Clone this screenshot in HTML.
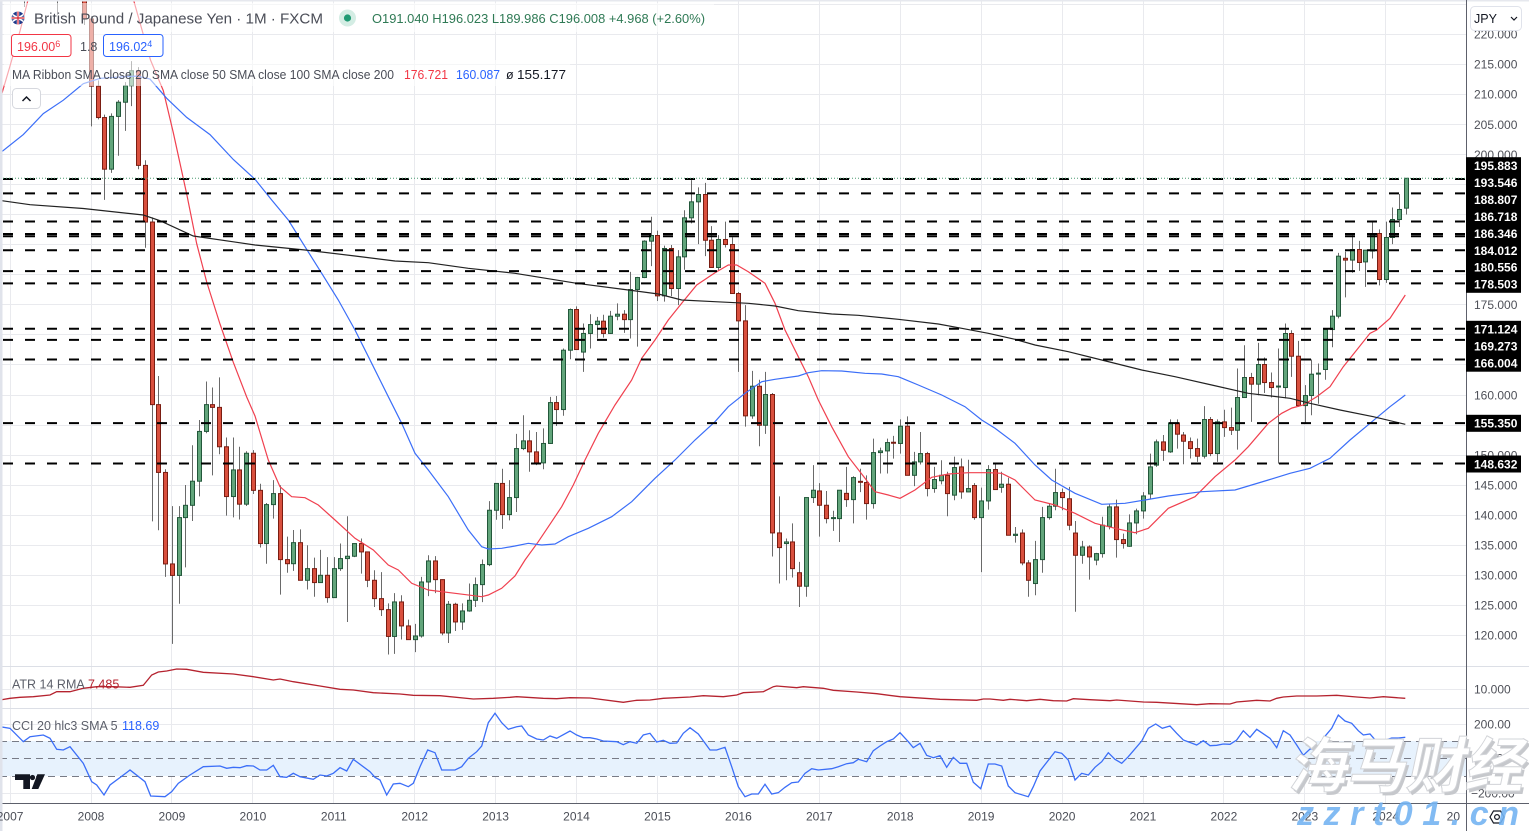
<!DOCTYPE html>
<html><head><meta charset="utf-8">
<style>
html,body{margin:0;padding:0;background:#fff;overflow:hidden;}
svg{display:block;font-family:"Liberation Sans",Arial,sans-serif;}
</style></head>
<body>
<svg id="c" width="1529" height="831" viewBox="0 0 1529 831" xmlns="http://www.w3.org/2000/svg">
<defs>
<clipPath id="mp"><rect x="0" y="0" width="1466" height="666"/></clipPath>
<clipPath id="bp"><rect x="0" y="667" width="1466" height="136"/></clipPath>
<clipPath id="xa"><rect x="0" y="804" width="1460" height="27"/></clipPath>
</defs>
<rect width="1529" height="831" fill="#fff"/>

<!-- grid -->
<g stroke="#e9eaee" stroke-width="1" fill="none">
<path d="M0 4.5H1466M0 34.5H1466M0 64.5H1466M0 94.5H1466M0 124.5H1466M0 154.5H1466M0 184.5H1466M0 214.5H1466M0 244.5H1466M0 274.5H1466M0 304.5H1466M0 334.5H1466M0 364.5H1466M0 395.5H1466M0 425.5H1466M0 455.5H1466M0 485.5H1466M0 515.5H1466M0 545.5H1466M0 575.5H1466M0 605.5H1466M0 635.5H1466"/>
<path d="M0 689.5H1466M0 724.5H1466M0 793.5H1466"/>
<path d="M10.5 0V803M91.5 0V803M171.5 0V803M252.5 0V803M333.5 0V803M414.5 0V803M495.5 0V803M576.5 0V803M657.5 0V803M738.5 0V803M819.5 0V803M900.5 0V803M981.5 0V803M1062.5 0V803M1143.5 0V803M1223.5 0V803M1304.5 0V803M1385.5 0V803"/>
</g>

<g clip-path="url(#mp)">
<g id="candles"></g>
<!-- MAs -->
<path fill="none" stroke="#f0404f" stroke-width="1.2" d="M0,100 L10,66 L20,31 L28,0 L29,-5 M133,-2 L150.5,60 L163.3,90.6 L173.3,132.7 L186.7,194 L196.7,243.7 L206.7,282 L220,324 L233.3,362.3 L246.7,397 L255,416 L268.3,460 L280,486.7 L291.7,496.7 L305,497.7 L318.3,505 L335,520 L355,538.3 L373.3,550 L388.3,565 L398.3,570 L411.7,583.3 L428.3,590 L455,593.3 L481.7,596.7 L488.3,595 L501.7,588.3 L515,576 L525,560 L538.3,541.7 L551.7,521.7 L561.7,506.7 L573.3,485 L585,460 L598.3,433.3 L615,405 L631.7,380 L641.7,358.3 L655,340 L668.3,320 L681.7,303.3 L696.7,285 L715,272.7 L728.3,265 L736.7,265 L748.3,271.7 L765,283.3 L775,303.3 L785,330 L798.3,356.7 L808.3,376.7 L818.3,400 L831.7,426.7 L848.3,456.7 L865,478.3 L875,491.7 L888.3,495 L900,498.3 L915,490 L931.7,477.3 L948.3,474 L968.3,472.7 L988.3,472.7 L1001.7,473.3 L1015,480 L1025,490 L1035,500 L1055,505 L1075,513.3 L1095,523.3 L1115,528.3 L1135,532.7 L1148.3,528.3 L1168.3,508.3 L1195,496.7 L1215,476.7 L1235,460 L1248.3,446.7 L1268.3,423.3 L1281.7,413.3 L1292,408 L1303.3,405 L1316.7,396.7 L1330,386.7 L1343.3,366.7 L1356.7,350 L1370,333.3 L1376.7,330 L1390,318.3 L1405.3,295"/>
<path fill="none" stroke="#3b6ef8" stroke-width="1.2" d="M0,152 L2.7,151 L23.3,134.6 L43.3,113.6 L63.3,100.2 L83.3,83.7 L100,78.4 L116.7,77.2 L136.7,76.1 L150,79.1 L166.7,98.3 L186.7,117.4 L210,134.6 L233.3,159.5 L255,179.3 L271.7,200 L288.3,220 L305,246.7 L321.7,273.3 L338.3,300 L355,330 L371.7,363.3 L388.3,396.7 L401.7,423.3 L415,453.3 L428.3,470 L448.3,496.7 L468.3,530 L481.7,546.7 L488.3,549 L501.7,548.3 L515,546 L528.3,543.3 L541.7,545 L555,544 L568.3,536.7 L588.3,528.3 L611.7,516.7 L631.7,501.7 L655,478.3 L675,460 L695,440 L715,421.7 L728.3,406.7 L745,393.3 L761.7,381.7 L775,379.3 L798.3,376 L808.3,372.7 L821.7,370.7 L841.7,371 L865,373.3 L881.7,374 L898.3,376.7 L918.3,385 L941.7,395 L965,406.7 L981.7,420 L995,428.3 L1015,443.3 L1035,465 L1051.7,480 L1075,493.3 L1101.7,504.3 L1125,503.3 L1145,500 L1168.3,496 L1201.7,491.7 L1235,490 L1268.3,480 L1290,473.3 L1310,468.3 L1330,458.3 L1350,440 L1370,423.3 L1390,406.7 L1405.3,395"/>
<path fill="none" stroke="#222" stroke-width="1.2" d="M0,200.5 L2.7,200.8 L30,204.7 L83.3,208.5 L143.3,215 L160,220.7 L193.3,236 L233.3,241.8 L255,245 L305,250 L355,256 L395,261 L428.3,262.7 L468.3,268.3 L515,273.3 L576.7,283.3 L628.3,290 L658.3,294 L681.7,300 L715,301.7 L748.3,303.3 L775,306 L798.3,310.7 L831.7,314 L858.3,315.3 L898.3,319.3 L938.3,324 L961.7,328.3 L988.3,333.3 L1015,339.3 L1035,345 L1068.3,351.7 L1101.7,360 L1141.7,370 L1175,376.7 L1211.7,385 L1248.3,393.3 L1290,398.3 L1310,403.3 L1340,410 L1373.3,416.7 L1405.3,424.3"/>

<!-- horizontal dashed levels -->
<g stroke="#000" stroke-width="2" stroke-dasharray="10 12" fill="none">
<path d="M3 179H1466M3 193.4H1466M3 221.5H1466M3 234H1466M3 236.3H1466M3 250.3H1466M3 271.1H1466M3 283.4H1466M3 328.8H1466M3 339.9H1466M3 359.5H1466M3 423.1H1466M3 463.5H1466"/>
</g>
<path d="M0 178.2H1466" stroke="#4a9a70" stroke-width="1" stroke-dasharray="1 2" fill="none"/>

<!-- legend overlay -->
<g fill="#fff" fill-opacity="0.55">
<rect x="4" y="3" width="710" height="29"/>
<rect x="4" y="32" width="166" height="28"/>
<rect x="4" y="60" width="566" height="26"/>
</g>
</g>

<!-- header legend -->
<g>
<circle cx="18" cy="18" r="6.5" fill="#1f3a8a"/>
<path d="M12.5 14.5L23.5 21.5M12.5 21.5L23.5 14.5" stroke="#fff" stroke-width="1.6"/>
<path d="M18 11.5V24.5M11.5 18H24.5" stroke="#fff" stroke-width="2.4"/>
<path d="M18 11.5V24.5M11.5 18H24.5" stroke="#d3202f" stroke-width="1.2"/>
<text x="34" y="23.5" font-size="15" fill="#4a4d57" textLength="289" lengthAdjust="spacingAndGlyphs">British Pound / Japanese Yen · 1M · FXCM</text>
<circle cx="347.5" cy="18" r="8.5" fill="#d4ede4"/>
<circle cx="347.5" cy="18" r="3.6" fill="#1f9a73"/>
<text x="372" y="23" font-size="13" fill="#2f7a55" textLength="333" lengthAdjust="spacingAndGlyphs">O191.040 H196.023 L189.986 C196.008 +4.968 (+2.60%)</text>

<rect x="11.5" y="34.5" width="59.5" height="22" rx="3" fill="#fff" stroke="#f23645"/>
<text x="17" y="51" font-size="12.5" fill="#f23645">196.00<tspan font-size="9" dy="-4">6</tspan></text>
<text x="80" y="51" font-size="12.5" fill="#4a4d57">1.8</text>
<rect x="103.5" y="34.5" width="59.5" height="22" rx="3" fill="#fff" stroke="#2962ff"/>
<text x="109" y="51" font-size="12.5" fill="#2962ff">196.02<tspan font-size="9" dy="-4">4</tspan></text>

<text x="12" y="79" font-size="12.5" fill="#4a4d57" textLength="382" lengthAdjust="spacingAndGlyphs">MA Ribbon SMA close 20 SMA close 50 SMA close 100 SMA close 200</text>
<text x="404" y="79" font-size="12.5" fill="#f23645" textLength="44" lengthAdjust="spacingAndGlyphs">176.721</text>
<text x="456" y="79" font-size="12.5" fill="#2962ff" textLength="44" lengthAdjust="spacingAndGlyphs">160.087</text>
<text x="506" y="79" font-size="12.5" fill="#131722">ø</text>
<text x="517" y="79" font-size="12.5" fill="#131722" textLength="49" lengthAdjust="spacingAndGlyphs">155.177</text>

<rect x="12.5" y="88.5" width="28" height="20" rx="4" fill="#fff" stroke="#d6d8de"/>
<path d="M22.5 101L26.5 97L30.5 101" stroke="#131722" stroke-width="1.5" fill="none"/>
</g>

<!-- bottom panes -->
<rect x="0" y="741" width="1466" height="35" fill="#e7f2fd"/>
<g stroke="#787b86" stroke-width="1" stroke-dasharray="7 5" fill="none">
<path d="M0 741.5H1466M0 758.5H1466M0 776.5H1466"/>
</g>
<g clip-path="url(#bp)" fill="none">
<polyline stroke="#b5232f" stroke-width="1.3" points="0,700 10,698.3 20,697.3 33.3,696.7 50,695 56.7,691.7 70,691.7 83.3,688.3 96.7,686.7 113.3,686.7 130,687.3 143.3,685.3 151.7,675 158.3,672 166.7,671 176.7,669 186.7,669.3 203.3,672.3 233.3,674 253.3,676.7 273.3,680 280,679 293.3,681.7 320,686 340,689.3 353.3,690 373.3,692.7 400,694 413.3,695.3 440,695.7 473.3,699 493.3,698.3 510,697.3 516.7,696.7 543.3,698.3 556.7,698.7 570,697.7 590,698 623.3,702.3 636.7,700.3 650,700 663.3,698.3 690,697 703.3,695.7 723.3,696.7 736.7,695 743.3,692.7 763.3,691.7 773.3,686.7 776.7,686 796.7,687.7 803.3,686.7 823.3,688.3 833.3,690.3 856.7,692 876.7,693.7 900,696.7 940,699.3 976.7,700.3 983.3,699 990,699 1003.3,700.3 1010,699.3 1026.7,700.7 1040,699.3 1053.3,700.7 1066.7,701 1073.3,698.7 1090,699.7 1110,700.7 1116.7,700 1143.3,702 1156.7,702.3 1196.7,704.7 1210,703.7 1230,704 1236.7,702 1256.7,700.3 1270,701 1276.7,698.3 1283.3,697 1296.7,696 1316.7,696 1336.7,695.3 1356.7,697 1370,698 1383.3,696.7 1396.7,697.7 1405.3,698.3"/>
<polyline stroke="#3b6ef8" stroke-width="1.3" points="0,726.7 10,728.3 23.3,741.7 30,736.7 43.3,735 50,738.3 56.7,749.3 63.3,750 70,746.7 83.3,763.3 91.7,781.7 96.7,785 104,795 110,785 130,770 145,781.7 150.7,796 165,796.7 171.7,791.7 178.3,783.3 190,775 203.3,766.7 220,766 226.7,768.3 233.3,767.3 240,767.7 246.7,765.7 253.3,766 260,770 266.7,770 273.3,765.3 280,776.7 286.7,777.3 293.3,773.3 300,776.7 313.3,779.3 320,775 326.7,776 333.3,773.3 340,767.7 346.7,771 353.3,759.3 370,771.7 375,777.3 380,780 386.7,795 393.3,784 400,783.3 408.3,786.7 413.3,783.3 420,766.7 427.7,750 435,752.7 441.7,770 455,770 461.7,766.7 468.3,758.3 476.7,751.7 481.7,746 488.3,722.7 495,713.3 501.7,722.7 508.3,729.3 516.7,726.7 521.7,726 528.3,735 536.7,739 543.3,740 550,736 556.7,738.3 570,731 576.7,735 583.3,737.7 590,737.7 596.7,739 603.3,741 616.7,741.7 623.3,744.7 630,741.7 636.7,743.3 643.3,735 650,733.3 656.7,742 663.3,740.3 670,743.3 676.7,743 683.3,733.3 690,727.7 698.3,734 710,750 716.7,750 725,747.3 731.7,766.7 738.3,786.7 745,796.7 751.7,794 758.3,794 765,784.3 771.7,794 778.3,792.7 785,787.3 791.7,782.7 798.3,782 805,773.3 811.7,768.7 818.3,770 831.7,768.7 838.3,766.7 846.7,763.7 853.3,762.7 858.3,759.3 866.7,761.7 873.3,750.7 880,746 886.7,741.7 893.3,739 900,732.7 908.3,741.7 913.3,747.7 920,743.3 926.7,755.3 933.3,757.7 940,755.7 946.7,767.3 953.3,757.3 960,763.3 966.7,763.3 973.3,782.3 980.7,788.7 988.3,764 995,764 1001.7,766 1008.3,786 1015,792.7 1028.3,796.7 1033.3,786.7 1040,771 1055,751.7 1061.7,753.3 1068.3,760 1075,780 1081.7,773.3 1088.3,775 1095,767.3 1101.7,761.7 1108.3,752.7 1115,759.3 1121.7,763.3 1128.3,756.7 1141.7,741 1148.3,728.3 1155.7,724 1162.3,728.3 1170,726 1176.7,733.3 1183.3,740 1196.7,745 1203.3,740.7 1210,745.7 1216.7,745.3 1223.3,744 1230,744.3 1236.7,740 1243.3,730.7 1250,737.3 1256.7,729.3 1270,738.3 1276.7,747.7 1283.3,730.7 1290,735 1296.7,745 1303.3,755.3 1310,749 1316.7,749 1323.3,738.3 1331.7,728.3 1338.3,715 1345,721 1351.7,723.3 1358.3,730.7 1363.3,735 1370,734 1376.7,741.7 1383.3,740.7 1391.7,738 1398.3,738 1405.3,737.3"/>
</g>
<text x="12" y="688.3" font-size="12.5" fill="#5d606b">ATR 14 RMA</text>
<text x="88" y="688.3" font-size="12.5" fill="#b5232f">7.485</text>
<text x="12" y="729.8" font-size="12.5" fill="#5d606b">CCI 20 hlc3 SMA 5</text>
<text x="122" y="729.8" font-size="12.5" fill="#2962ff">118.69</text>
<g fill="#131722">
<path d="M15 774.3H30V789H23.3V780H15Z"/>
<circle cx="32.5" cy="777.5" r="2.6"/>
<path d="M37.3 774.3H45L38.3 789H31.7Z"/>
</g>

<!-- separators -->
<path d="M0 666.5H1529M0 708.5H1529" stroke="#dcdfe6" stroke-width="1"/>
<path d="M0 803.5H1529" stroke="#5d606b" stroke-width="1"/>
<rect x="0" y="0" width="2.5" height="831" fill="#e0e3eb"/>
<rect x="0" y="0" width="1529" height="1.5" fill="#e6e8ee"/>

<!-- x axis labels -->
<g clip-path="url(#xa)" font-size="12" fill="#4a4d56" text-anchor="middle">
<text x="10.1" y="820.5">2007</text>
<text x="91" y="820.5">2008</text>
<text x="171.9" y="820.5">2009</text>
<text x="252.9" y="820.5">2010</text>
<text x="333.8" y="820.5">2011</text>
<text x="414.7" y="820.5">2012</text>
<text x="495.6" y="820.5">2013</text>
<text x="576.5" y="820.5">2014</text>
<text x="657.5" y="820.5">2015</text>
<text x="738.4" y="820.5">2016</text>
<text x="819.3" y="820.5">2017</text>
<text x="900.2" y="820.5">2018</text>
<text x="981.1" y="820.5">2019</text>
<text x="1062.1" y="820.5">2020</text>
<text x="1143" y="820.5">2021</text>
<text x="1223.9" y="820.5">2022</text>
<text x="1304.8" y="820.5">2023</text>
<text x="1385.7" y="820.5">2024</text>
<text x="1460" y="820.5">2025</text>
</g>

<!-- price axis -->
<path d="M1466.5 0V831" stroke="#5d606b" stroke-width="1"/>
<g font-size="12" fill="#4e5058">
<text x="1474" y="38.3">220.000</text>
<text x="1474" y="68.6">215.000</text>
<text x="1474" y="98.7">210.000</text>
<text x="1474" y="128.8">205.000</text>
<text x="1474" y="158.8">200.000</text>
<text x="1474" y="309.2">175.000</text>
<text x="1474" y="399.3">160.000</text>
<text x="1474" y="459.4">150.000</text>
<text x="1474" y="489.4">145.000</text>
<text x="1474" y="519.5">140.000</text>
<text x="1474" y="549.6">135.000</text>
<text x="1474" y="579.6">130.000</text>
<text x="1474" y="609.7">125.000</text>
<text x="1474" y="639.7">120.000</text>
<text x="1474" y="693.6">10.000</text>
<text x="1474" y="728.6">200.00</text>
<text x="1480" y="762.6">0.00</text>
<text x="1471" y="797.6">−200.00</text>
</g>
<g fill="#000">
<rect x="1466" y="157.2" width="55" height="135.6"/>
<rect x="1466" y="320.8" width="55" height="50.9"/>
<rect x="1466" y="414.8" width="55" height="17"/>
<rect x="1466" y="455.5" width="55" height="17"/>
</g>
<g font-size="12" font-weight="bold" fill="#fff">
<text x="1474" y="170">195.883</text>
<text x="1474" y="186.9">193.546</text>
<text x="1474" y="203.9">188.807</text>
<text x="1474" y="220.8">186.718</text>
<text x="1474" y="237.8">186.346</text>
<text x="1474" y="254.8">184.012</text>
<text x="1474" y="271.7">180.556</text>
<text x="1474" y="288.7">178.503</text>
<text x="1474" y="333.6">171.124</text>
<text x="1474" y="350.5">169.273</text>
<text x="1474" y="367.5">166.004</text>
<text x="1474" y="427.6">155.350</text>
<text x="1474" y="468.3">148.632</text>
</g>
<rect x="1470.5" y="6.5" width="51" height="24" rx="4" fill="#fff" stroke="#e0e3eb"/>
<text x="1474" y="23" font-size="12.5" fill="#131722">JPY</text>
<path d="M1511 17l3 3l3-3" stroke="#131722" stroke-width="1.2" fill="none"/>

<!-- watermark -->
<g font-family="'Noto Sans CJK SC','WenQuanYi Zen Hei',sans-serif" font-weight="bold" font-size="60">
<text x="1290" y="790" fill="#c6c8cc" textLength="235" lengthAdjust="spacingAndGlyphs" transform="skewX(-12) translate(168,0)">海马财经</text>
<text x="1287" y="787" fill="#fff" stroke="#d2d4d8" stroke-width="1" textLength="235" lengthAdjust="spacingAndGlyphs" transform="skewX(-12) translate(168,0)">海马财经</text>
</g>
<polygon points="1490,817 1493.5,811 1500.5,811 1504,817 1500.5,823 1493.5,823" fill="#fff" stroke="#131722" stroke-width="1.2"/>
<circle cx="1497" cy="817" r="2.4" fill="none" stroke="#131722" stroke-width="1.2"/>
<text x="1297" y="825" font-size="34" font-weight="bold" font-style="italic" fill="#74b4f2" fill-opacity="0.9" textLength="222" lengthAdjust="spacing">zzrt01.cn</text>
</svg>

<script>
(function(){
var ns="http://www.w3.org/2000/svg";
var g=document.getElementById('candles');
function Y(p){return 64.1+(215-p)*6.012;}
function X(m){return 91+6.743*(m-12);}
function add(m,o,h,l,c){
 var x=Math.round(X(m));
 var up=c>=o;
 var w=document.createElementNS(ns,'line');
 w.setAttribute('x1',x+0.5);w.setAttribute('x2',x+0.5);
 w.setAttribute('y1',Y(h));w.setAttribute('y2',Y(l));
 w.setAttribute('stroke','#6a6a6a');w.setAttribute('stroke-width','1');
 g.appendChild(w);
 var t=Y(Math.max(o,c)),b=Y(Math.min(o,c));if(b-t<1)b=t+1;
 var r=document.createElementNS(ns,'rect');
 r.setAttribute('x',x-1.5);r.setAttribute('y',t);r.setAttribute('width',4);r.setAttribute('height',b-t);
 r.setAttribute('fill',up?'#62a57b':'#d9503e');
 r.setAttribute('stroke',up?'#22573a':'#7a1d12');r.setAttribute('stroke-width','1');
 g.appendChild(r);
}
add(2,240,242,224.5,236);
add(7,240,242,223.2,232);
add(10,240,241,226.5,229);
var d=[
[229,230,221.5,222.5],
[222.5,223,204.65,211.33],[211.33,212.3,205.8,206.11],[206.11,206.6,192.42,197.52],[197.52,206.8,196.9,206.3],[206.3,209,199.75,208.66],[208.66,212,203.9,211.4],[211.4,215.5,208,213.9],[213.9,214.5,197.5,198.15],[198.15,199,184.46,188.73],[188.73,189.5,138.93,158.36],[158.36,163.13,137.47,147.08],[147.08,147.6,129.7,131.86],
[131.86,141.48,118.56,129.95],[129.95,141.48,125.24,139.57],[139.57,144.98,131.29,141.61],[141.61,151.6,139,145.62],[145.62,155.8,143.1,153.9],[153.9,162.2,153.6,158.36],[158.36,161.2,146.6,157.9],[157.9,162.9,150.1,151.35],[151.35,152.9,139.9,143.07],[143.07,152.9,139.6,147.5],[147.5,151.35,139.25,141.8],[141.8,150.6,141.5,150.27],
[150.27,150.8,143.5,144.1],[144.1,145.2,134.6,135.25],[135.25,142.0,131.9,141.73],[141.73,145.8,139.4,143.56],[143.56,144.95,126.76,132.58],[132.58,136.4,130.4,131.9],[131.9,137.5,130.7,135.4],[135.4,137.6,129.1,129.14],[129.14,134.96,127.6,131.08],[131.08,132.9,126.4,128.76],[128.76,134.2,128.7,129.97],[129.97,133.0,125.4,126.26],
[126.26,133.0,126.2,131.08],[131.08,135.25,130.7,132.75],[132.75,139.8,122.2,133.14],[133.14,135.3,133.0,135.25],[135.25,136.1,130.25,133.86],[133.86,133.9,128.0,129.14],[129.14,130.8,124.7,126.09],[126.09,130.5,123.2,124.26],[124.26,125.3,116.8,119.8],[119.8,127.0,116.9,125.54],[125.54,126.65,119.3,121.55],[121.55,122.6,119.2,119.27],
[119.27,121.9,117.2,119.88],[119.88,129.7,119.6,128.86],[128.86,133.3,126.5,132.36],[132.36,133.15,127.0,129.25],[129.25,129.3,120.0,120.38],[120.38,125.7,118.7,125.15],[125.15,125.4,120.7,122.21],[122.21,125.3,120.9,124.04],[124.04,128.6,123.9,125.81],[125.81,129.6,124.7,128.42],[128.42,132.6,125.5,131.75],[131.75,142.3,131.5,140.79],
[140.79,145.3,139.2,145.25],[145.25,147.7,137.7,140.07],[140.07,145.8,139.1,142.9],[142.9,153.5,140.5,151.05],[151.05,156.6,150.8,152.33],[152.33,154.1,147.2,150.5],[150.5,153.8,148.3,148.67],[148.67,154.4,147.6,151.9],[151.9,159.65,151.8,158.7],[158.7,159.8,154.8,157.54],[157.54,167.7,156.5,167.41],[167.41,174.35,165.9,174.18],
[174.18,174.7,167.5,167.52],[167.1,171.85,163.8,170.2],[170.2,173.4,167.7,171.68],[171.68,172.96,169.35,172.24],[172.24,173.3,169.5,170.2],[170.2,173.96,170.1,173.07],[173.07,175.2,172.4,173.4],[173.4,174.07,170.3,172.5],[172.5,180.45,169.35,177.5],[177.5,179.6,168.0,179.5],[179.5,185.7,179.4,185.55],[185.55,189.6,181.4,186.49],
[186.49,187.3,175.6,176.45],[176.45,184.8,175.5,184.33],[184.33,184.9,176.4,177.67],[177.67,184.05,174.9,182.94],[182.94,190.7,180.8,189.43],[189.43,195.7,188.5,192.09],[192.09,194.5,185.05,193.31],[193.31,195.25,183.05,185.7],[185.7,188.04,181.1,181.17],[181.17,186.55,180.7,185.83],[185.83,188.8,184.5,184.99],[184.99,186.2,176.8,176.84],
[176.84,177.1,163.8,172.29],[172.29,174.9,154.7,156.49],[156.49,163.97,156.0,161.42],[161.42,162.5,151.44,154.93],[154.93,163.8,153.5,160.04],[160.04,160.3,133.1,137.02],[137.02,143.1,128.6,134.58],[135.25,136.1,129.14,135.52],[135.52,138.6,129.6,131.08],[130.4,132.2,124.7,128.15],[128.15,142.9,126.4,142.9],[142.9,148.3,142.0,144.12],
[144.0,145.3,136.4,141.62],[141.62,144.0,138.6,139.4],[139.4,140.7,137.35,139.57],[139.4,144.12,135.5,144.12],[143.6,148.0,141.35,142.56],[142.56,146.45,138.6,146.22],[145.6,147.7,143.8,145.45],[145.4,146.6,139.24,141.9],[141.9,152.7,141.07,150.38],[150.38,151.2,146.9,150.66],[150.66,152.7,146.9,152.05],[152.1,153.16,149.38,152.0],
[151.9,155.9,150.2,154.77],[154.77,156.4,146.6,146.6],[146.6,150.5,144.8,148.83],[148.83,153.8,148.4,150.22],[150.22,150.5,143.1,144.4],[144.4,148.0,143.7,145.9],[145.7,149.1,145.1,146.6],[146.6,147.2,139.8,143.56],[143.3,149.7,142.45,147.89],[148.0,149.4,142.7,143.84],[143.84,149.2,143.8,144.4],[144.9,145.3,139.2,139.57],
[139.57,144.56,130.5,142.34],[142.34,148.3,140.9,147.56],[147.56,148.7,144.2,144.23],[144.6,147.2,143.7,145.12],[145.12,146.2,136.6,136.63],[136.6,138.0,135.4,136.8],[137.0,137.6,131.64,132.03],[132.03,132.5,126.4,129.14],[128.6,135.7,126.65,132.58],[132.58,141.35,130.4,139.57],[139.57,141.9,139.24,141.46],[141.46,147.7,140.8,143.73],
[143.73,144.4,140.8,142.9],[142.7,144.67,137.46,138.3],[137.0,139.0,123.9,133.3],[133.3,135.7,131.9,134.69],[134.69,134.96,129.25,133.03],[132.5,133.7,131.64,133.58],[133.58,139.7,132.9,138.3],[138.1,141.9,137.6,141.35],[141.35,142.56,132.9,135.91],[135.91,136.9,134.4,135.25],[134.8,140.1,134.7,138.68],[138.68,141.07,136.8,140.68],
[140.68,143.8,139.4,143.17],[143.5,150.2,142.7,148.0],[148.3,152.55,148.0,152.16],[152.16,153.3,149.0,150.77],[150.5,155.9,150.33,155.32],[155.32,155.9,151.05,153.44],[153.3,153.8,148.45,152.27],[152.2,152.9,149.4,151.05],[151.05,152.7,148.83,149.78],[149.78,158.1,149.4,155.88],[155.88,156.3,149.8,150.22],[150.22,155.9,148.83,155.49],
[155.49,157.5,153.0,154.54],[154.54,157.87,153.3,154.1],[154.1,164.36,150.88,159.54],[159.54,168.24,159.5,162.87],[162.87,163.64,155.49,161.76],[161.76,168.63,159.92,165.03],[165.03,166.2,160.3,162.03],[162.03,163.7,159.54,161.2],[161.3,167.7,148.55,161.45],[161.2,171.85,159.4,170.19],[170.19,170.74,162.97,166.41],[166.41,168.97,157.98,158.2],
[158.2,161.6,155.3,159.87],[159.87,165.86,156.6,163.42],[163.45,165.2,158.5,163.6],[164.2,170.85,162.5,170.85],[170.85,174.07,167.9,173.07],[173.07,183.6,172.7,183.05],[182.7,183.8,176.2,182.4],[182.4,186.55,180.3,184.16],[184.16,185.6,180.6,182.0],[182.1,184.05,177.95,184.05],[183.9,188.8,182.66,186.82],[186.82,187.5,178.2,179.17],
[179.17,188.8,178.6,186.16],[186.16,191.15,185.05,189.15],[189.15,193.4,187.9,190.82],[191.04,196.023,189.986,196.008]
];
for(var i=0;i<d.length;i++){var q=d[i];add(11+i,q[0],q[1],q[2],q[3]);}
})();
</script>
</body></html>
